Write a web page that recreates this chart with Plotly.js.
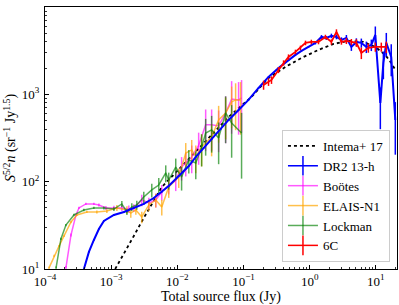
<!DOCTYPE html>
<html><head><meta charset="utf-8">
<script src="https://cdn.plot.ly/plotly-3.0.1.min.js"></script>
<style>html,body{margin:0;padding:0;background:#fff}</style>
</head><body><div id="chart" style="width:399px;height:305px"></div>
<script>
// Intema+ 17 model
const intemaFlux = [1.15e-3, 1.56e-3, 2.20e-3, 3.11e-3, 4.41e-3, 5.82e-3, 1.05e-2, 1.90e-2, 3.30e-2, 5.96e-2, 0.132, 0.239, 0.431, 0.752, 1.36, 2.29, 3.85, 6.47, 9.83, 13.9, 17.1, 19.7];
const intemaS = [10, 14.9, 23.9, 38.4, 61.7, 86.9, 138, 219, 343, 551, 934, 1541, 2060, 2612, 3228, 3776, 4093, 3981, 3491, 2826, 2291, 1905];

// DR2 13-h
const dr2Flux = [3.87e-4, 4.61e-4, 5.48e-4, 6.52e-4, 7.76e-4, 1.10e-3, 1.56e-3, 2.20e-3, 3.11e-3, 4.41e-3, 5.82e-3, 7.41e-3, 1.05e-2, 1.49e-2, 1.90e-2, 2.50e-2, 3.30e-2, 4.52e-2, 5.96e-2, 8.43e-2, 0.119, 0.169, 0.239, 0.338, 0.479, 0.61, 0.752, 0.96, 1.22, 1.51, 1.79, 2.13, 2.54, 3.02, 3.59, 4.27, 5.08, 6.04, 7.19, 8.55, 9.83, 11.7, 13.0, 14.4, 17.1, 19.7];
const dr2S = [10, 15.7, 21.5, 28.7, 35.5, 41.6, 45.0, 50.0, 55.6, 65.0, 76.2, 89.3, 116, 151, 192, 243, 308, 402, 509, 662, 863, 1183, 1582, 2005, 2478, 2826, 3141, 3491, 3883, 4540, 4425, 4670, 4540, 4198, 4425, 3491, 3981, 3883, 3491, 3681, 4786, 798, 2291, 3883, 2679, 509];
const dr2Err = [0.02, 0.02, 0.02, 0.02, 0.02, 0.02, 0.02, 0.02, 0.02, 0.02, 0.02, 0.02, 0.02, 0.02, 0.02, 0.02, 0.02, 0.02, 0.02, 0.02, 0.02, 0.02, 0.02, 0.02, 0.02, 0.02, 0.02, 0.02, 0.04, 0.05, 0.05, 0.06, 0.06, 0.07, 0.08, 0.1, 0.1, 0.12, 0.15, 0.15, 0.25, 0.5, 0.35, 0.3, 0.4, 0.6];

// Boötes
const bootesFlux = [2.07e-4, 2.47e-4, 2.94e-4, 3.26e-4, 4.15e-4, 5.48e-4, 6.52e-4, 8.32e-4, 1.10e-3, 1.45e-3, 1.85e-3, 2.20e-3, 2.90e-3, 3.71e-3, 4.72e-3, 5.82e-3, 7.41e-3, 9.46e-3, 1.16e-2, 1.34e-2, 1.65e-2, 2.10e-2, 2.68e-2, 3.30e-2, 4.21e-2, 5.37e-2, 6.62e-2, 8.43e-2, 9.35e-2];
const bootesS = [10.3, 24.5, 41.6, 50.0, 55.6, 55.6, 54.1, 50.0, 50.0, 50.0, 48.6, 50.0, 61.7, 57.0, 61.7, 76.2, 91.6, 104, 147, 164, 192, 260, 447, 447, 435, 612, 885, 863, 910];
const bootesErr = [0.05, 0.04, 0.03, 0.03, 0.03, 0.03, 0.04, 0.05, 0.06, 0.08, 0.1, 0.1, 0.15, 0.15, 0.18, 0.2, 0.22, 0.25, 0.3, 0.3, 0.35, 0.4, 0.5, 0.5, 0.5, 0.55, 0.6, 0.6, 0.6];

// ELAIS-N1
const elaisFlux = [1.15e-4, 1.37e-4, 1.63e-4, 1.94e-4, 2.47e-4, 3.04e-4, 4.30e-4, 6.08e-4, 8.61e-4, 1.22e-3, 1.73e-3, 1.98e-3, 2.36e-3, 2.90e-3, 3.71e-3, 4.72e-3, 5.82e-3, 7.41e-3, 1.05e-2, 1.34e-2, 1.65e-2, 1.90e-2, 2.33e-2, 3.30e-2, 4.21e-2, 5.37e-2, 6.62e-2, 7.60e-2, 9.04e-2];
const elaisS = [10.3, 14.1, 18.3, 23.9, 34.5, 41.6, 45.0, 45.0, 46.1, 50.0, 47.4, 43.8, 47.4, 39.4, 54.1, 61.7, 51.3, 86.9, 113, 213, 231, 192, 249, 325, 509, 612, 818, 863, 863];
const elaisErr = [0.03, 0.03, 0.03, 0.03, 0.03, 0.03, 0.03, 0.04, 0.05, 0.08, 0.1, 0.12, 0.12, 0.15, 0.15, 0.18, 0.2, 0.25, 0.25, 0.3, 0.3, 0.35, 0.4, 0.4, 0.45, 0.5, 0.5, 0.55, 0.6];

// Lockman
const lockmanFlux = [1.47e-4, 1.74e-4, 2.07e-4, 2.74e-4, 3.87e-4, 5.48e-4, 7.76e-4, 1.10e-3, 1.45e-3, 1.73e-3, 2.05e-3, 2.44e-3, 3.11e-3, 4.11e-3, 5.24e-3, 6.68e-3, 7.41e-3, 9.46e-3, 1.16e-2, 1.49e-2, 1.90e-2, 2.33e-2, 2.68e-2, 3.30e-2, 4.21e-2, 5.37e-2, 6.62e-2, 9.35e-2];
const lockmanS = [10.3, 22.1, 31.9, 41.6, 47.4, 50.0, 50.0, 48.6, 55.6, 45.0, 51.3, 54.1, 66.8, 80.4, 91.6, 126, 104, 147, 113, 177, 164, 249, 361, 391, 317, 612, 470, 361];
const lockmanErr = [0.04, 0.03, 0.03, 0.03, 0.03, 0.03, 0.04, 0.05, 0.08, 0.08, 0.1, 0.12, 0.15, 0.18, 0.2, 0.22, 0.22, 0.25, 0.3, 0.3, 0.35, 0.4, 0.45, 0.45, 0.5, 0.55, 0.6, 0.7];

// 6C
const sixcFlux = [0.201, 0.239, 0.265, 0.338, 0.403, 0.479, 0.61, 0.726, 0.865, 1.06, 1.36, 1.73, 2.13, 2.54, 3.02, 3.59, 4.27, 5.08, 6.04, 7.71, 9.83, 12.1, 14.4];
const sixcS = [1282, 1387, 1462, 1901, 2291, 2679, 3062, 3405, 3883, 3981, 3981, 4540, 3981, 5188, 3981, 4093, 3981, 3883, 2979, 3405, 3491, 3491, 3491];
const sixcErr = [0.12, 0.1, 0.1, 0.08, 0.07, 0.07, 0.06, 0.06, 0.06, 0.06, 0.06, 0.06, 0.07, 0.07, 0.07, 0.08, 0.08, 0.1, 0.15, 0.12, 0.12, 0.12, 0.15];

const legendNames = ['Intema+ 17', 'DR2 13-h', 'Bo\u00f6tes', 'ELAIS-N1', 'Lockman', '6C'];
const xTickVals = [1e-4, 1e-3, 1e-2, 1e-1, 1, 10];
const xTickText = ['10<sup>\u22124</sup>', '10<sup>\u22123</sup>', '10<sup>\u22122</sup>', '10<sup>\u22121</sup>', '10<sup>0</sup>', '10<sup>1</sup>'];
const yTickVals = [10, 100, 1000, 10000];
const yTickText = ['10<sup>1</sup>', '10<sup>2</sup>', '10<sup>3</sup>', '10<sup>4</sup>'];

function absErr(y, f) { return y.map((v, i) => v * f[i]); }

function series(x, y, f, color, barColor, width) {
  return {
    x: x, y: y, type: 'scatter', mode: 'lines', showlegend: false,
    line: {color: color, width: width},
    error_y: {type: 'data', array: absErr(y, f), visible: true, color: barColor, thickness: 1.5, width: 0},
    hoverinfo: 'skip'
  };
}

const MAG = 'rgba(255,0,255,0.65)', ORA = 'rgba(255,165,0,0.7)', GRN = 'rgba(0,128,0,0.65)';
const traces = [
  {x: intemaFlux, y: intemaS, type: 'scatter', mode: 'lines', showlegend: false,
   line: {color: 'black', width: 1.8, dash: 'dot'}, hoverinfo: 'skip'},
  series(bootesFlux, bootesS, bootesErr, MAG, MAG, 1.5),
  series(elaisFlux, elaisS, elaisErr, ORA, ORA, 1.5),
  series(lockmanFlux, lockmanS, lockmanErr, GRN, GRN, 1.5),
  series(dr2Flux, dr2S, dr2Err, '#0000ff', '#0000ff', 2),
  series(sixcFlux, sixcS, sixcErr, '#ff0000', '#ff0000', 1.8)
];

// legend-only entries (no data)
const legColors = ['black', '#0000ff', MAG, ORA, GRN, '#ff0000'];
legendNames.forEach((nm, i) => {
  const t = {x: [null], y: [null], type: 'scatter', name: nm, showlegend: true, hoverinfo: 'skip',
    mode: i === 0 ? 'lines' : 'lines+markers',
    line: {color: legColors[i], width: i === 0 ? 1.8 : 1.5, dash: i === 0 ? 'dot' : 'solid'}};
  if (i > 0) t.marker = {symbol: 'line-ns', size: 14, line: {color: legColors[i], width: 1.5}};
  traces.push(t);
});

const serif = "'Liberation Serif', 'Times New Roman', serif";
const axisCommon = {
  type: 'log', showgrid: false, zeroline: false, showline: true, linecolor: 'black', linewidth: 1,
  mirror: true, ticks: 'inside', ticklen: 4, tickwidth: 1, tickcolor: 'black',
  minor: {ticks: 'inside', ticklen: 2, tickwidth: 0.8, tickcolor: 'black', dtick: 'D1', showgrid: false},
  tickfont: {family: serif, size: 13, color: 'black'}
};

const layout = {
  width: 399, height: 305,
  margin: {l: 45, r: 2, t: 7, b: 36},
  paper_bgcolor: 'white', plot_bgcolor: 'white',
  font: {family: serif, size: 14, color: 'black'},
  xaxis: Object.assign({}, axisCommon, {
    range: [-4, 1.32], tickvals: xTickVals, ticktext: xTickText, ticklabelstandoff: 0,
    title: {text: 'Total source flux (Jy)', font: {family: serif, size: 14}, standoff: 6}
  }),
  yaxis: Object.assign({}, axisCommon, {
    range: [1, 4], tickvals: yTickVals, ticktext: yTickText, ticklabelstandoff: 2,
    title: {text: '<i>S</i><sup>5/2</sup><i>n</i> (sr<sup>\u22121</sup> Jy<sup>1.5</sup>)', font: {family: serif, size: 14}, standoff: 2}
  }),
  legend: {
    x: 0.98, y: 0.027, xanchor: 'right', yanchor: 'bottom',
    bgcolor: 'rgba(255,255,255,0.85)', bordercolor: '#cccccc', borderwidth: 1,
    font: {family: serif, size: 13, color: 'black'}, tracegroupgap: 0
  },
  showlegend: true
};

Plotly.newPlot('chart', traces, layout, {staticPlot: true, displayModeBar: false});
</script>
</body></html>
